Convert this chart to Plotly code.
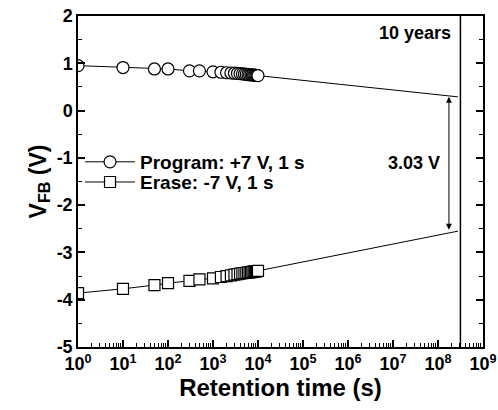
import math
import plotly.graph_objects as go

# Data
t_prog = [1, 10, 50, 100, 300, 500, 1000, 1500, 2000, 2500, 3000, 3500, 4000, 4500, 5000,
          5500, 6000, 6500, 7000, 7500, 8000, 8500, 9000, 9500, 10000]
v_prog = [0.95, 0.91, 0.88, 0.88, 0.84, 0.84, 0.82, 0.81, 0.80, 0.795, 0.79, 0.785, 0.78, 0.775, 0.77,
          0.765, 0.76, 0.758, 0.755, 0.752, 0.75, 0.748, 0.745, 0.742, 0.74]
t_erase = t_prog
v_erase = [-3.86, -3.77, -3.69, -3.65, -3.60, -3.57, -3.55, -3.52, -3.50, -3.485, -3.47, -3.46, -3.45,
           -3.44, -3.435, -3.43, -3.425, -3.42, -3.415, -3.41, -3.405, -3.40, -3.398, -3.395, -3.39]

# Extrapolated fit lines (end points)
fit_t = [10000, 2.78e8]
fit_prog = [0.74, 0.29]
fit_erase = [-3.39, -2.55]

ten_years = 3.15e8
arrow_t = 1.75e8

xtick_vals = [10**i for i in range(10)]
xtick_text = [f"10<sup>{i}</sup>" for i in range(10)]
ytick_vals = [2, 1, 0, -1, -2, -3, -4, -5]
ytick_text = ["2", "1", "0", "-1", "-2", "-3", "-4", "-5"]

FONT = "Liberation Sans, Arial, sans-serif"

fig = go.Figure()
fig.add_trace(go.Scatter(x=fit_t, y=fit_prog, mode="lines", line=dict(color="black", width=1),
                         showlegend=False, hoverinfo="skip"))
fig.add_trace(go.Scatter(x=fit_t, y=fit_erase, mode="lines", line=dict(color="black", width=1),
                         showlegend=False, hoverinfo="skip"))
fig.add_trace(go.Scatter(x=[ten_years, ten_years], y=[-5, 2], mode="lines",
                         line=dict(color="black", width=1.5), showlegend=False, hoverinfo="skip"))
fig.add_trace(go.Scatter(x=t_prog, y=v_prog, mode="lines+markers", name="Program: +7 V, 1 s",
                         line=dict(color="black", width=1), legend="legend",
                         marker=dict(symbol="circle", size=12, color="white",
                                     line=dict(color="black", width=1.2))))
fig.add_trace(go.Scatter(x=t_erase, y=v_erase, mode="lines+markers", name="Erase: -7 V, 1 s",
                         line=dict(color="black", width=1), legend="legend2",
                         marker=dict(symbol="square", size=11, color="white",
                                     line=dict(color="black", width=1.2))))

fig.add_annotation(x=math.log10(arrow_t), y=fit_prog[1], ax=math.log10(arrow_t), ay=fit_erase[1],
                   xref="x", yref="y", axref="x", ayref="y", text="", showarrow=True,
                   arrowhead=2, startarrowhead=2, arrowside="end+start", arrowwidth=1,
                   arrowsize=1.2, arrowcolor="black")
fig.add_annotation(x=math.log10(ten_years), y=1.64, xref="x", yref="y", text="10 years",
                   showarrow=False, xanchor="right", xshift=-7,
                   font=dict(family=FONT, size=18, color="black", weight="bold"))
fig.add_annotation(x=math.log10(arrow_t), y=-1.1, xref="x", yref="y", text="3.03 V",
                   showarrow=False, xanchor="right", xshift=-7,
                   font=dict(family=FONT, size=18, color="black", weight="bold"))

leg_common = dict(xanchor="left", yanchor="middle", bgcolor="rgba(0,0,0,0)",
                  font=dict(family=FONT, size=19, color="black", weight="bold"), itemwidth=50)
fig.update_layout(
    width=498, height=410,
    margin=dict(l=78, r=15, t=16, b=63),
    paper_bgcolor="white", plot_bgcolor="white",
    font=dict(family=FONT, size=16, color="black"),
    legend=dict(x=0.005, y=0.559, **leg_common),
    legend2=dict(x=0.005, y=0.498, **leg_common),
)
fig.update_xaxes(type="log", range=[0, 9], tickmode="array", tickvals=xtick_vals, ticktext=xtick_text,
                 ticks="inside", ticklen=7, tickwidth=1.5, tickcolor="black",
                 showline=True, linecolor="black", linewidth=1.5, mirror=True,
                 showgrid=False, zeroline=False, automargin=False,
                 tickfont=dict(family=FONT, size=18, color="black", weight="bold"),
                 minor=dict(ticks="inside", ticklen=4, tickwidth=1.2, tickcolor="black",
                            dtick="D1", showgrid=False),
                 title=dict(text="Retention time (s)",
                            font=dict(family=FONT, size=24, color="black", weight="bold"),
                            standoff=6))
fig.update_yaxes(range=[-5, 2], tickvals=ytick_vals, ticktext=ytick_text,
                 ticks="inside", ticklen=7, tickwidth=1.5, tickcolor="black",
                 showline=True, linecolor="black", linewidth=1.5, mirror="ticks",
                 showgrid=False, zeroline=False, automargin=False,
                 tickfont=dict(family=FONT, size=18, color="black", weight="bold"),
                 minor=dict(ticks="inside", ticklen=4, tickwidth=1.2, tickcolor="black", dtick=0.5,
                            showgrid=False),
                 title=dict(text="V<sub>FB</sub> (V)",
                            font=dict(family=FONT, size=23, color="black", weight="bold"),
                            standoff=4))

fig.write_html("out.html")
